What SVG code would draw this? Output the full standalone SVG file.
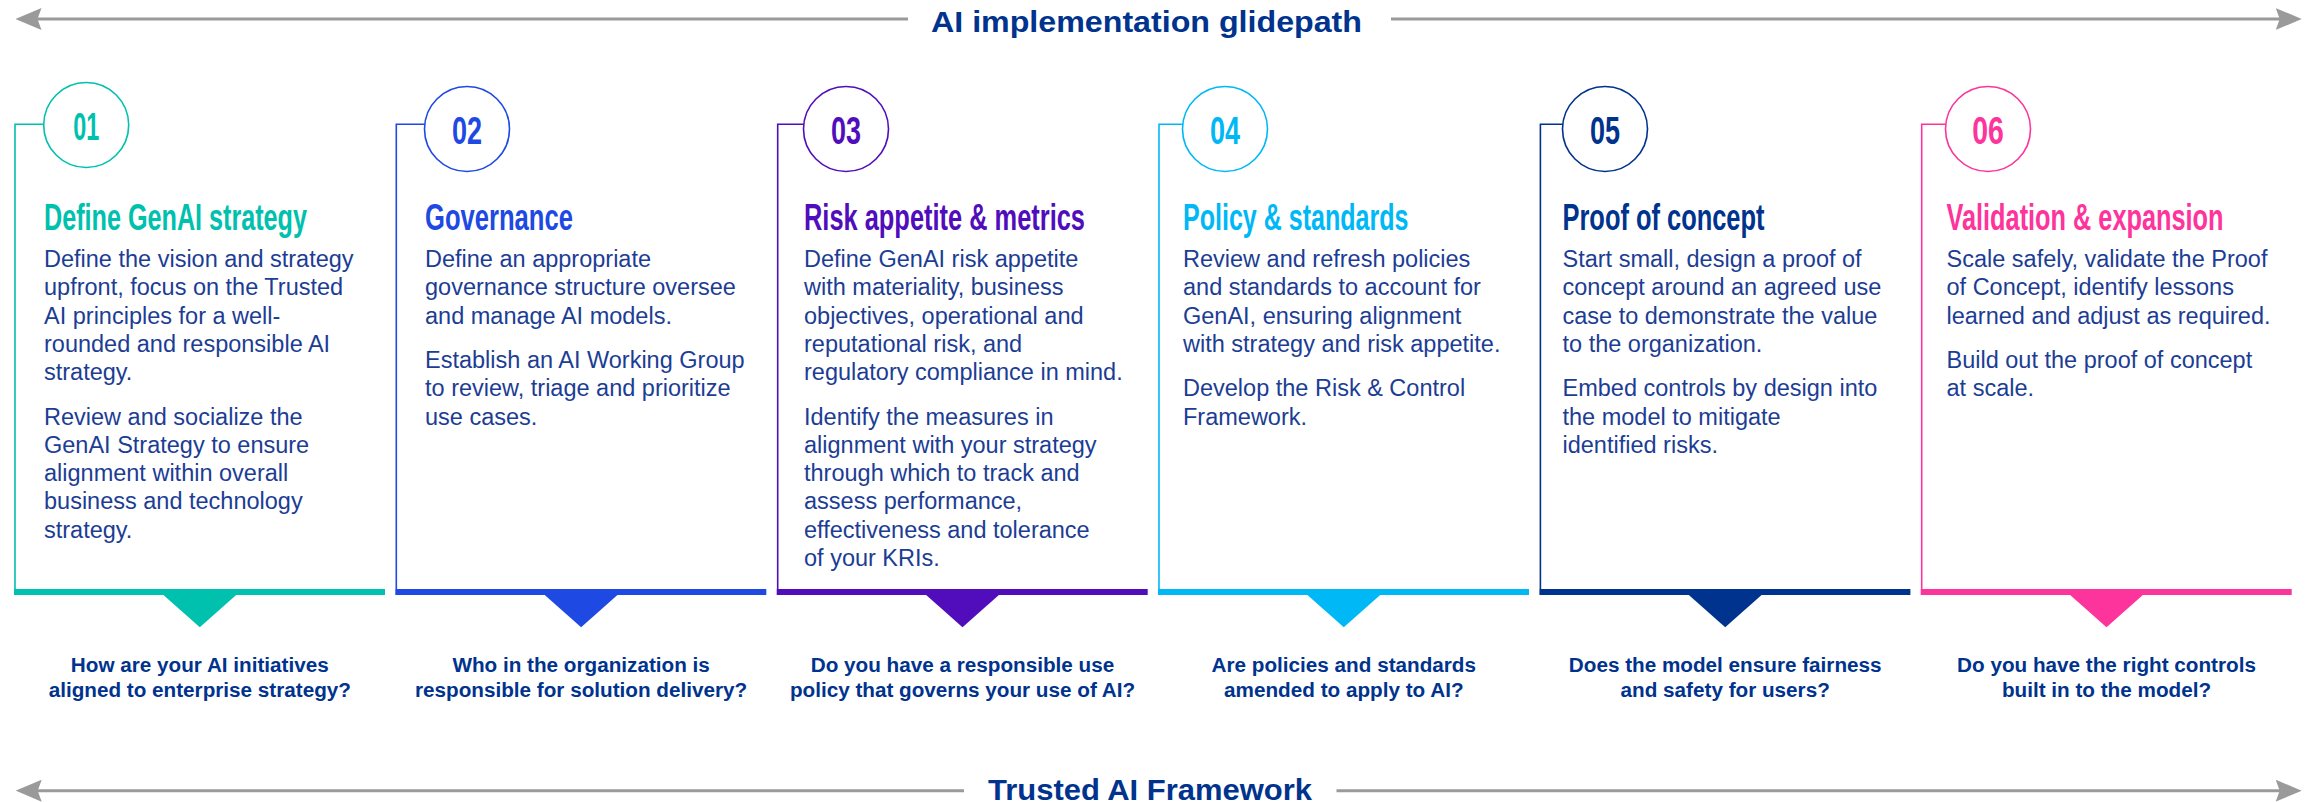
<svg xmlns="http://www.w3.org/2000/svg" width="2313" height="802" viewBox="0 0 2313 802">
<defs>
<style>
.bg{fill:#ffffff}
.arr{stroke:#9a9a9a;stroke-width:3;fill:none}
.title{font-family:"Liberation Sans",Arial,sans-serif;font-weight:bold;font-size:30px;fill:#00338D;text-anchor:middle}
.num{font-family:"Liberation Sans",Arial,sans-serif;font-weight:bold;font-size:39px;text-anchor:middle}
.head{font-family:"Liberation Sans",Arial,sans-serif;font-weight:bold;font-size:37px}
.body{font-family:"Liberation Sans",Arial,sans-serif;font-size:23.5px;fill:#1c3d94}
.q{font-family:"Liberation Sans",Arial,sans-serif;font-weight:bold;font-size:20.7px;fill:#00338D;text-anchor:middle}
.ring{fill:#ffffff;stroke-width:1.6}
.rail{fill:none;stroke-width:1.6}
.k1 .f{fill:#00C0AE}.k1 .s{stroke:#00C0AE}
.k2 .f{fill:#1E49E2}.k2 .s{stroke:#1E49E2}
.k3 .f{fill:#510DBC}.k3 .s{stroke:#510DBC}
.k4 .f{fill:#00B8F5}.k4 .s{stroke:#00B8F5}
.k5 .f{fill:#00338D}.k5 .s{stroke:#00338D}
.k6 .f{fill:#FD349C}.k6 .s{stroke:#FD349C}
</style>
<marker id="ah" viewBox="0 0 26 22" refX="6" refY="11" markerWidth="26" markerHeight="22" markerUnits="userSpaceOnUse" orient="auto-start-reverse">
<path d="M0,0 L26,11 L0,22 L4,11 Z" fill="#9a9a9a"/>
</marker>
</defs>
<rect class="bg" x="0" y="0" width="2313" height="802"/>

<g id="connectors">
<line class="arr" x1="35.5" y1="19" x2="908" y2="19" marker-start="url(#ah)"/>
<line class="arr" x1="1391" y1="19" x2="2281.7" y2="19" marker-end="url(#ah)"/>
<line class="arr" x1="35.7" y1="790.7" x2="964" y2="790.7" marker-start="url(#ah)"/>
<line class="arr" x1="1336.5" y1="790.7" x2="2281.7" y2="790.7" marker-end="url(#ah)"/>
</g>

<g id="title-top"><text class="title" x="1146.5" y="32" textLength="431" lengthAdjust="spacingAndGlyphs">AI implementation glidepath</text></g>
<g id="title-bottom"><text class="title" x="1150" y="800" textLength="324" lengthAdjust="spacingAndGlyphs">Trusted AI Framework</text></g>

<g id="step-01" class="k1">
<path class="rail s" d="M44,124.3 H15 V589"/>
<circle class="ring s" cx="86.2" cy="125" r="42.5"/>
<text class="num f" transform="translate(86.2,139.5) scale(0.65,1)" textLength="40" lengthAdjust="spacingAndGlyphs">01</text>
<text class="head f" transform="translate(44,229.5) scale(0.7,1)" textLength="375.7" lengthAdjust="spacingAndGlyphs">Define GenAI strategy</text>
<text class="body">
<tspan x="44" y="267">Define the vision and strategy</tspan>
<tspan x="44" y="295.3">upfront, focus on the Trusted</tspan>
<tspan x="44" y="323.6">AI principles for a well-</tspan>
<tspan x="44" y="351.9">rounded and responsible AI</tspan>
<tspan x="44" y="380.2">strategy.</tspan>
<tspan x="44" y="424.5">Review and socialize the</tspan>
<tspan x="44" y="452.8">GenAI Strategy to ensure</tspan>
<tspan x="44" y="481.1">alignment within overall</tspan>
<tspan x="44" y="509.4">business and technology</tspan>
<tspan x="44" y="537.7">strategy.</tspan>
</text>
<rect class="f" x="14" y="589" width="371" height="6"/>
<polygon class="f" points="162.3,594 237.3,594 199.8,627.3"/>
<text class="q"><tspan x="199.8" y="671.7">How are your AI initiatives</tspan><tspan x="199.8" y="697.3">aligned to enterprise strategy?</tspan></text>
</g>

<g id="step-02" class="k2">
<path class="rail s" d="M425,124.3 H396.3 V589"/>
<circle class="ring s" cx="467" cy="129" r="42.5"/>
<text class="num f" transform="translate(467,143.5) scale(0.65,1)" textLength="46.2" lengthAdjust="spacingAndGlyphs">02</text>
<text class="head f" transform="translate(425,229.5) scale(0.7,1)" textLength="211.4" lengthAdjust="spacingAndGlyphs">Governance</text>
<text class="body">
<tspan x="425" y="267">Define an appropriate</tspan>
<tspan x="425" y="295.3">governance structure oversee</tspan>
<tspan x="425" y="323.6">and manage AI models.</tspan>
<tspan x="425" y="367.9">Establish an AI Working Group</tspan>
<tspan x="425" y="396.2">to review, triage and prioritize</tspan>
<tspan x="425" y="424.5">use cases.</tspan>
</text>
<rect class="f" x="395.3" y="589" width="371" height="6"/>
<polygon class="f" points="543.6,594 618.6,594 581.1,627.3"/>
<text class="q"><tspan x="581.1" y="671.7">Who in the organization is</tspan><tspan x="581.1" y="697.3">responsible for solution delivery?</tspan></text>
</g>

<g id="step-03" class="k3">
<path class="rail s" d="M804,124.3 H777.7 V589"/>
<circle class="ring s" cx="846" cy="129" r="42.5"/>
<text class="num f" transform="translate(846,143.5) scale(0.65,1)" textLength="46.2" lengthAdjust="spacingAndGlyphs">03</text>
<text class="head f" transform="translate(804,229.5) scale(0.7,1)" textLength="401.4" lengthAdjust="spacingAndGlyphs">Risk appetite &amp; metrics</text>
<text class="body">
<tspan x="804" y="267">Define GenAI risk appetite</tspan>
<tspan x="804" y="295.3">with materiality, business</tspan>
<tspan x="804" y="323.6">objectives, operational and</tspan>
<tspan x="804" y="351.9">reputational risk, and</tspan>
<tspan x="804" y="380.2">regulatory compliance in mind.</tspan>
<tspan x="804" y="424.5">Identify the measures in</tspan>
<tspan x="804" y="452.8">alignment with your strategy</tspan>
<tspan x="804" y="481.1">through which to track and</tspan>
<tspan x="804" y="509.4">assess performance,</tspan>
<tspan x="804" y="537.7">effectiveness and tolerance</tspan>
<tspan x="804" y="566">of your KRIs.</tspan>
</text>
<rect class="f" x="776.7" y="589" width="371" height="6"/>
<polygon class="f" points="925,594 1000,594 962.5,627.3"/>
<text class="q"><tspan x="962.5" y="671.7">Do you have a responsible use</tspan><tspan x="962.5" y="697.3">policy that governs your use of AI?</tspan></text>
</g>

<g id="step-04" class="k4">
<path class="rail s" d="M1183,124.3 H1159 V589"/>
<circle class="ring s" cx="1225" cy="129" r="42.5"/>
<text class="num f" transform="translate(1225,143.5) scale(0.65,1)" textLength="46.2" lengthAdjust="spacingAndGlyphs">04</text>
<text class="head f" transform="translate(1183,229.5) scale(0.7,1)" textLength="322.1" lengthAdjust="spacingAndGlyphs">Policy &amp; standards</text>
<text class="body">
<tspan x="1183" y="267">Review and refresh policies</tspan>
<tspan x="1183" y="295.3">and standards to account for</tspan>
<tspan x="1183" y="323.6">GenAI, ensuring alignment</tspan>
<tspan x="1183" y="351.9">with strategy and risk appetite.</tspan>
<tspan x="1183" y="396.2">Develop the Risk &amp; Control</tspan>
<tspan x="1183" y="424.5">Framework.</tspan>
</text>
<rect class="f" x="1158" y="589" width="371" height="6"/>
<polygon class="f" points="1306.3,594 1381.3,594 1343.8,627.3"/>
<text class="q"><tspan x="1343.8" y="671.7">Are policies and standards</tspan><tspan x="1343.8" y="697.3">amended to apply to AI?</tspan></text>
</g>

<g id="step-05" class="k5">
<path class="rail s" d="M1563,124.3 H1540.4 V589"/>
<circle class="ring s" cx="1605" cy="129" r="42.5"/>
<text class="num f" transform="translate(1605,143.5) scale(0.65,1)" textLength="46.2" lengthAdjust="spacingAndGlyphs">05</text>
<text class="head f" transform="translate(1562.5,229.5) scale(0.7,1)" textLength="288.6" lengthAdjust="spacingAndGlyphs">Proof of concept</text>
<text class="body">
<tspan x="1562.5" y="267">Start small, design a proof of</tspan>
<tspan x="1562.5" y="295.3">concept around an agreed use</tspan>
<tspan x="1562.5" y="323.6">case to demonstrate the value</tspan>
<tspan x="1562.5" y="351.9">to the organization.</tspan>
<tspan x="1562.5" y="396.2">Embed controls by design into</tspan>
<tspan x="1562.5" y="424.5">the model to mitigate</tspan>
<tspan x="1562.5" y="452.8">identified risks.</tspan>
</text>
<rect class="f" x="1539.4" y="589" width="371" height="6"/>
<polygon class="f" points="1687.7,594 1762.7,594 1725.2,627.3"/>
<text class="q"><tspan x="1725.2" y="671.7">Does the model ensure fairness</tspan><tspan x="1725.2" y="697.3">and safety for users?</tspan></text>
</g>

<g id="step-06" class="k6">
<path class="rail s" d="M1946,124.3 H1921.7 V589"/>
<circle class="ring s" cx="1988" cy="129" r="42.5"/>
<text class="num f" transform="translate(1988,143.5) scale(0.65,1)" textLength="48.6" lengthAdjust="spacingAndGlyphs">06</text>
<text class="head f" transform="translate(1946.5,229.5) scale(0.7,1)" textLength="395.7" lengthAdjust="spacingAndGlyphs">Validation &amp; expansion</text>
<text class="body">
<tspan x="1946.5" y="267">Scale safely, validate the Proof</tspan>
<tspan x="1946.5" y="295.3">of Concept, identify lessons</tspan>
<tspan x="1946.5" y="323.6">learned and adjust as required.</tspan>
<tspan x="1946.5" y="367.9">Build out the proof of concept</tspan>
<tspan x="1946.5" y="396.2">at scale.</tspan>
</text>
<rect class="f" x="1920.7" y="589" width="371" height="6"/>
<polygon class="f" points="2069,594 2144,594 2106.5,627.3"/>
<text class="q"><tspan x="2106.5" y="671.7">Do you have the right controls</tspan><tspan x="2106.5" y="697.3">built in to the model?</tspan></text>
</g>
</svg>
